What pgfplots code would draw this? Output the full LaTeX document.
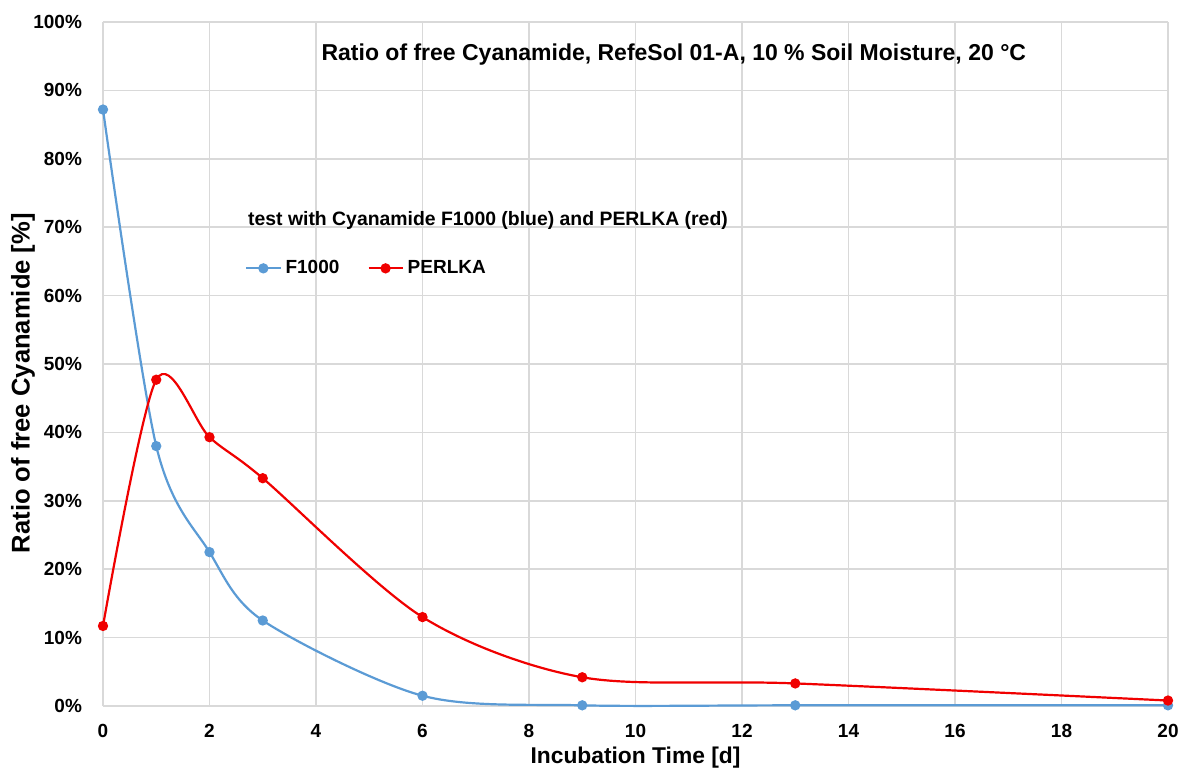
\documentclass[border=0pt]{standalone}
\usepackage{pgfplots}
\pgfplotsset{compat=1.18}
\usepackage{fontspec}
\setmainfont{Liberation Sans}
\definecolor{xlblue}{RGB}{91,155,213}
\definecolor{xlred}{RGB}{240,0,0}
\definecolor{gridgray}{RGB}{217,217,217}

\begin{document}
\begin{tikzpicture}
% page size: 1182x771 px at 0.5pt per px
\useasboundingbox (-51.5pt,-32.5pt) rectangle (539.5pt,353pt);
\begin{axis}[
    at={(0,0)}, anchor=south west,
    scale only axis,
    width=532.5pt, height=342pt,
    xmin=0, xmax=20, ymin=0, ymax=100,
    xtick={0,2,...,20}, ytick={0,10,...,100},
    grid=major,
    major grid style={gridgray, line width=0.8pt},
    axis line style={gridgray, line width=0.8pt},
    axis x line*=bottom, axis y line*=left,
    tick style={draw=none},
    font=\bfseries,
    tick label style={font=\fontsize{9.5}{11}\selectfont\bfseries},
    xticklabel style={yshift=-5.5pt},
    yticklabel style={xshift=-7pt},
    /pgf/number format/assume math mode=true,
    yticklabel={\pgfmathprintnumber{\tick}\%},
    xlabel={Incubation Time [d]},
    ylabel={Ratio of free Cyanamide [\%]},
    xlabel style={font=\fontsize{11.4}{13}\selectfont\bfseries,
        at={(rel axis cs:0.5,-0.076)}, anchor=center},
    ylabel style={font=\fontsize{12.8}{14}\selectfont\bfseries,
        at={(rel axis cs:-0.0751,0.472)}, anchor=center},
    legend columns=2,
    legend style={draw=none, fill=none, at={(axis cs:2.55,66.4)}, anchor=north west,
        font=\fontsize{9.5}{11}\selectfont\bfseries,
        /tikz/every even column/.append style={column sep=12pt}},
    every axis plot/.append style={line width=1.1pt, smooth, mark=*, mark size=2pt},
    clip=false,
]
\addplot[xlblue, mark options={fill=xlblue}] coordinates {
    (0,87.2) (1,38.0) (2,22.5) (3,12.5) (6,1.5) (9,0.1) (13,0.1) (20,0.1)
};
\addlegendentry{F1000}
\addplot[xlred, mark options={fill=xlred}] coordinates {
    (0,11.7) (1,47.7) (2,39.3) (3,33.3) (6,13.0) (9,4.2) (13,3.3) (20,0.8)
};
\addlegendentry{PERLKA}
\node[font=\fontsize{11.5}{13}\selectfont\bfseries] at (axis cs:10.72,95.2)
    {Ratio of free Cyanamide, RefeSol 01-A, 10 \% Soil Moisture, 20 °C};
\node[font=\fontsize{9.7}{11}\selectfont\bfseries] at (axis cs:7.23,71.05)
    {test with Cyanamide F1000 (blue) and PERLKA (red)};
\end{axis}
\end{tikzpicture}
\end{document}
